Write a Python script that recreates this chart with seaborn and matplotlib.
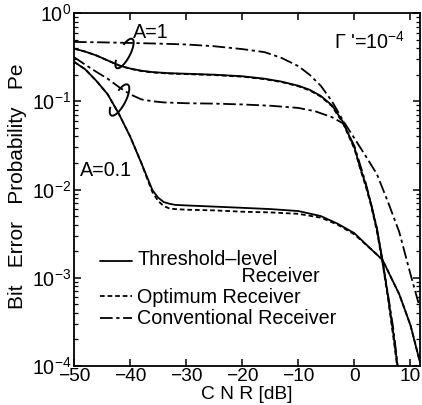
import numpy as np
import pandas as pd
import matplotlib
matplotlib.use("Agg")
import matplotlib.pyplot as plt
import seaborn as sns
from matplotlib.lines import Line2D
from matplotlib.patches import Arc
from matplotlib.legend_handler import HandlerLine2D

# ---------------- data ----------------
cnr_a1 = [-50, -48, -46, -44, -42, -40, -38, -36, -33, -30, -25, -20, -16, -13,
          -10, -8, -6, -4, -2, 0, 1, 2, 3, 4, 5, 6, 7, 8]
pe_thr_a1 = [0.395, 0.365, 0.33, 0.29, 0.255, 0.235, 0.222, 0.214, 0.208, 0.205,
             0.2, 0.192, 0.18, 0.167, 0.15, 0.135, 0.115, 0.09, 0.058, 0.03,
             0.018, 0.0115, 0.0068, 0.0036, 0.0016, 0.00062, 0.00022, 0.00007]
pe_opt_a1 = [0.395, 0.365, 0.33, 0.29, 0.255, 0.233, 0.22, 0.212, 0.206, 0.203,
             0.198, 0.19, 0.178, 0.165, 0.148, 0.133, 0.113, 0.088, 0.056, 0.029,
             0.0175, 0.011, 0.0065, 0.0034, 0.0015, 0.00058, 0.0002, 0.000065]

cnr_conv_a1 = [-50, -45, -40, -35, -30, -25, -20, -16, -13, -10, -8, -6, -4, -2,
               0, 2, 4, 6, 8, 10, 11.7]
pe_conv_a1 = [0.47, 0.465, 0.458, 0.45, 0.44, 0.42, 0.39, 0.36, 0.31, 0.25, 0.2,
              0.15, 0.1, 0.06, 0.038, 0.024, 0.015, 0.0072, 0.0033, 0.0011, 0.00045]

cnr_a01 = [-50, -48, -46, -44, -42, -40, -38, -37, -36, -35, -34, -33, -32, -30,
           -25, -20, -15, -10, -6, -3, 0, 3, 5, 8, 10, 11.7]
pe_thr_a01 = [0.28, 0.23, 0.17, 0.12, 0.072, 0.04, 0.02, 0.014, 0.0098, 0.0081,
              0.0072, 0.0069, 0.0067, 0.0066, 0.0064, 0.0062, 0.006, 0.0057, 0.005,
              0.0041, 0.0032, 0.0021, 0.0016, 0.00065, 0.00029, 0.00011]
pe_opt_a01 = [0.28, 0.23, 0.17, 0.12, 0.072, 0.04, 0.02, 0.0135, 0.0093, 0.0074,
              0.0065, 0.0061, 0.006, 0.0059, 0.0058, 0.0056, 0.0055, 0.0053, 0.0048,
              0.004, 0.0031, 0.0021, 0.0016, 0.00065, 0.00029, 0.00011]

cnr_conv_a01 = [-50, -48, -46, -44, -42, -40, -38, -36, -34, -30, -25, -20, -15,
                -10, -7, -4, -2, 0, 2, 4, 6, 7, 8]
pe_conv_a01 = [0.316, 0.26, 0.215, 0.18, 0.145, 0.12, 0.105, 0.1, 0.097, 0.095,
               0.094, 0.092, 0.089, 0.084, 0.077, 0.066, 0.056, 0.031, 0.012,
               0.0037, 0.00064, 0.00025, 0.00007]

receivers = ["Conventional", "Threshold", "Optimum"]
legend_labels = ["Threshold\u2013level\n                   Receiver",
                 "Optimum Receiver", "Conventional Receiver"]
x_ticks = [-50, -40, -30, -20, -10, 0, 10]
y_ticks = [1e-4, 1e-3, 1e-2, 1e-1, 1]
y_tick_labels = [r"$10^{-4}$", r"$10^{-3}$", r"$10^{-2}$", r"$10^{-1}$", r"$10^{0}$"]

# ---------------- long table ----------------
frames = []
for rec, a, xs, ys in [
    ("Conventional", "1", cnr_conv_a1, pe_conv_a1),
    ("Conventional", "0.1", cnr_conv_a01, pe_conv_a01),
    ("Threshold", "1", cnr_a1, pe_thr_a1),
    ("Threshold", "0.1", cnr_a01, pe_thr_a01),
    ("Optimum", "1", cnr_a1, pe_opt_a1),
    ("Optimum", "0.1", cnr_a01, pe_opt_a01),
]:
    frames.append(pd.DataFrame({"CNR": xs, "Pe": ys, "receiver": rec, "A": a}))
df = pd.concat(frames, ignore_index=True)

# ---------------- style ----------------
sns.set_style("ticks")
plt.rcParams.update({
    "font.family": ["Liberation Sans", "DejaVu Sans"],
    "mathtext.fontset": "custom",
    "mathtext.rm": "Liberation Sans",
    "mathtext.it": "Liberation Sans:italic",
    "mathtext.bf": "Liberation Sans:bold",
    "mathtext.default": "regular",
    "axes.linewidth": 1.3,
    "xtick.direction": "in",
    "ytick.direction": "in",
    "text.color": "black",
    "axes.labelcolor": "black",
    "xtick.color": "black",
    "ytick.color": "black",
})

FS = 14.2
dash_map = {"Threshold": "", "Optimum": (2.6, 1.6), "Conventional": (7, 2, 1.8, 2)}

TOP, BOT, LEFT, RIGHT = 13, 366, 74, 420
fig = plt.figure(figsize=(4.22, 4.05), dpi=100)
ax = fig.add_axes([LEFT / 422, 1 - BOT / 405, (RIGHT - LEFT) / 422, (BOT - TOP) / 405])
ax.set_yscale("log")

sns.lineplot(data=df, x="CNR", y="Pe", style="receiver", style_order=receivers,
             units="A", estimator=None, sort=False, color="black",
             dashes=dash_map, linewidth=1.3, legend=False, ax=ax)

ax.set_xlim(-50, 11.7)
ax.set_ylim(1e-4, 1)
ax.set_xticks(x_ticks)
ax.set_yticks(y_ticks)
ax.set_yticklabels(y_tick_labels)
ax.tick_params(axis="both", which="major", direction="in", top=True, right=True,
               length=5, width=1.1, labelsize=FS)
ax.tick_params(axis="x", which="major", pad=1.5, labelsize=13.8)
ax.tick_params(axis="y", which="major", pad=2)
ax.tick_params(axis="y", which="minor", direction="in", left=True, right=True,
               length=3, width=0.9)
ax.set_xlabel("C N R [dB]", fontsize=13.8, labelpad=0.5)
ax.set_ylabel("Bit   Error   Probability   Pe", fontsize=15)
ax.yaxis.set_label_coords(-0.135, 0.51)
for s in ax.spines.values():
    s.set_visible(True)
    s.set_color("black")

# ---------------- legend ----------------
class UpperHandler(HandlerLine2D):
    def __init__(self, shift=0.0, **kw):
        super().__init__(**kw)
        self.shift = shift

    def create_artists(self, legend, orig_handle, xdescent, ydescent, width,
                       height, fontsize, trans):
        arts = super().create_artists(legend, orig_handle, xdescent, ydescent,
                                      width, height, fontsize, trans)
        for a in arts:
            if isinstance(a, Line2D):
                a.set_ydata(np.asarray(a.get_ydata(), dtype=float) + self.shift)
        return arts

handles = [Line2D([], [], color="black", lw=1.3, dashes=dash_map[r]) if dash_map[r]
           else Line2D([], [], color="black", lw=1.3)
           for r in ["Threshold", "Optimum", "Conventional"]]
leg = ax.legend(handles, legend_labels, loc="upper left",
                bbox_to_anchor=((100 - LEFT) / (RIGHT - LEFT), (BOT - 250) / (BOT - TOP)),
                frameon=False, fontsize=FS,
                handlelength=1.6, handletextpad=0.3, labelspacing=0.12,
                borderpad=0, borderaxespad=0,
                handler_map={handles[0]: UpperHandler(shift=5.5)})
leg.get_texts()[0].set_linespacing(0.85)

# ---------------- annotations ----------------
def axpt(px, py):
    return (px - LEFT) / (RIGHT - LEFT), (BOT - py) / (BOT - TOP)

ax.text(*axpt(133, 32), "A=1", transform=ax.transAxes,
        fontsize=FS, ha="left", va="center")
ax.text(*axpt(80, 170), "A=0.1", transform=ax.transAxes,
        fontsize=FS, ha="left", va="center")
ax.text(*axpt(334, 42), "\u0393 '=10$^{-4}$",
        transform=ax.transAxes, fontsize=FS, ha="left", va="center")

# curly brackets grouping curves
for cx, cy, w, h in [(124.5, 53.5, 11, 33), (119.5, 100, 12, 35)]:
    arc = Arc((cx / 100, (405 - cy) / 100), w / 100, h / 100, angle=-28,
              theta1=-115, theta2=125, transform=fig.dpi_scale_trans,
              color="black", lw=1.4)
    fig.add_artist(arc)

fig.savefig("out.png", dpi=100)
